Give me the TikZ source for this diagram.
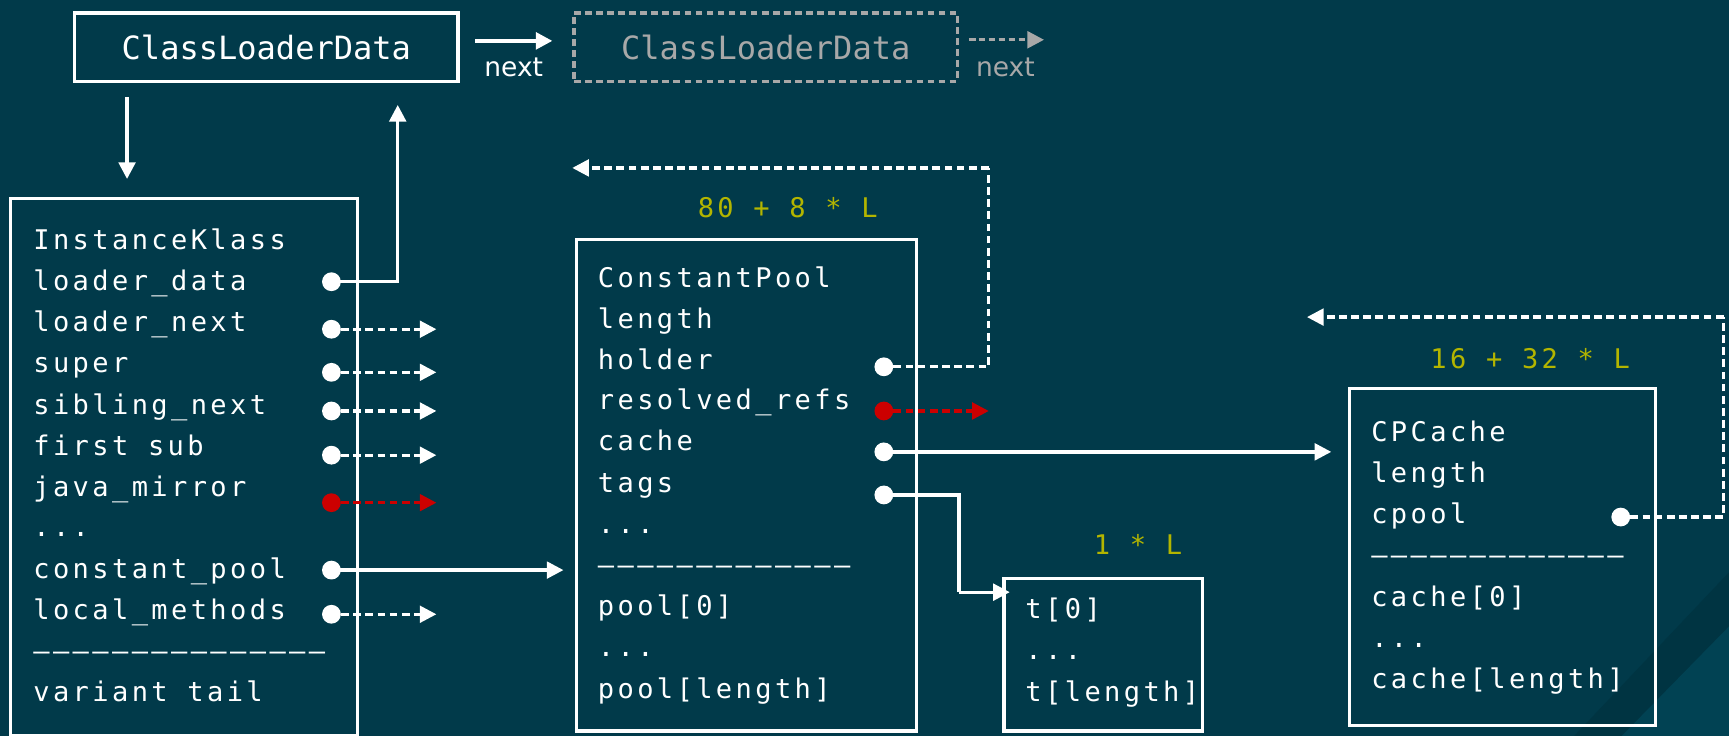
\documentclass[tikz,border=0pt]{standalone}
\usepackage{fontspec}
\usetikzlibrary{arrows.meta}
\newfontfamily\monof[LetterSpace=12.5]{DejaVu Sans Mono}
\newfontfamily\headf{DejaVu Sans Mono}
\newfontfamily\sansf{DejaVu Sans}
\definecolor{bg}{HTML}{013A4A}
\definecolor{bgdark}{HTML}{003442}
\definecolor{bglight}{HTML}{014253}
\definecolor{olive}{HTML}{B3B500}
\definecolor{redc}{HTML}{CC0000}
\definecolor{greyc}{HTML}{A8A8A8}
\tikzset{
  box/.style={draw=white, line width=3.2pt, inner sep=0pt, anchor=north west},
  txt/.style={text=white, font=\monof\fontsize{24.5}{30}\selectfont, inner sep=0pt, anchor=base west},
  sizelbl/.style={text=olive, font=\monof\fontsize{24.5}{30}\selectfont, inner sep=0pt},
  headtxt/.style={font=\headf\fontsize{29}{34}\selectfont, inner sep=0pt},
  nextlbl/.style={font=\sansf\fontsize{24}{28}\selectfont, inner sep=0pt},
  dotw/.style={circle, fill=white, inner sep=0pt, minimum size=17pt},
  dotr/.style={circle, fill=redc, inner sep=0pt, minimum size=17pt},
  tipw/.style={-{Triangle[length=15pt,width=15pt]}},
  link/.style={draw=white, line width=3pt, tipw},
  plainlink/.style={draw=white, line width=3pt},
  dlink/.style={draw=white, line width=3pt, dash pattern=on 7pt off 4pt, tipw},
  dplain/.style={draw=white, line width=3pt, dash pattern=on 7pt off 4pt},
  rlink/.style={draw=redc, line width=3pt, dash pattern=on 7pt off 4pt, -{Triangle[length=15pt,width=15pt]}},
}
\begin{document}
\begin{tikzpicture}[x=1pt,y=-1pt]
\fill[bg] (0,0) rectangle (1565,666);
\useasboundingbox (0,0) rectangle (1565,666);
\fill[bgdark] (1425,666) -- (1565,518) -- (1565,666) -- cycle;
\fill[bglight] (1468,666) -- (1565,567) -- (1565,666) -- cycle;

% top boxes
\node[box, minimum width=347pt, minimum height=62pt] (cld) at (66,10) {};
\node[headtxt, text=white] (cldt) at (cld.center) {ClassLoaderData};
\node[box, draw=greyc, dash pattern=on 6pt off 4pt, minimum width=347pt, minimum height=62pt] (cld2) at (518,10) {};
\node[headtxt, text=greyc] (cld2t) at (cld2.center) {ClassLoaderData};
\coordinate (n1s) at (430,37);
\coordinate (n1e) at (500,37);
\draw[link, line width=3.5pt] (n1s) -- (n1e);
\node[nextlbl, text=white] (n1l) at (465,61) {next};
\coordinate (n2s) at (877,36);
\coordinate (n2e) at (945,36);
\draw[draw=greyc, line width=3pt, dash pattern=on 6pt off 3pt, -{Triangle[length=15pt,width=15pt]}, color=greyc] (n2s) -- (n2e);
\node[nextlbl, text=greyc] (n2l) at (910,61) {next};

% InstanceKlass
\node[box, minimum width=314pt, minimum height=486pt] (ik) at (8,178) {};
\node[txt] (ik0) at (30,226) {InstanceKlass};
\node[txt] (ik1) at (30,263) {loader\_data};
\node[txt] (ik2) at (30,300) {loader\_next};
\node[txt] (ik3) at (30,337) {super};
\node[txt] (ik4) at (30,375) {sibling\_next};
\node[txt] (ik5) at (30,412) {first sub};
\node[txt] (ik6) at (30,449) {java\_mirror};
\node[txt] (ik7) at (30,486) {...};
\node[txt] (ik8) at (30,524) {constant\_pool};
\node[txt] (ik9) at (30,561) {local\_methods};
\node[txt] (ik10) at (30,598) {–––––––––––––––};
\node[txt] (ik11) at (30,635) {variant tail};

\coordinate (cldin) at (115,88);
\coordinate (ikin) at (115,162);
\draw[link] (cldin) -- (ikin);

\node[dotw] (d1) at (300,255) {};
\node[dotw] (d2) at (300,298) {};
\node[dotw] (d3) at (300,337) {};
\node[dotw] (d4) at (300,372) {};
\node[dotw] (d5) at (300,412) {};
\node[dotr] (d6) at (300,455) {};
\node[dotw] (d8) at (300,516) {};
\node[dotw] (d9) at (300,556) {};
\coordinate (up) at (360,95);
\draw[link] (d1.center) -| (up);
\coordinate (e2) at (395,298);
\coordinate (e3) at (395,337);
\coordinate (e4) at (395,372);
\coordinate (e5) at (395,412);
\coordinate (e6) at (395,455);
\coordinate (e9) at (395,556);
\draw[dlink] (d2.east) -- (e2);
\draw[dlink] (d3.east) -- (e3);
\draw[dlink] (d4.east) -- (e4);
\draw[dlink] (d5.east) -- (e5);
\draw[rlink] (d6.east) -- (e6);
\draw[dlink] (d9.east) -- (e9);

% ConstantPool
\node[box, minimum width=308pt, minimum height=445pt] (cp) at (520,215) {};
\node[sizelbl] (cpsz) at (713,188) {80 + 8 * L};
\node[txt] (cp0) at (541,260) {ConstantPool};
\node[txt] (cp1) at (541,297) {length};
\node[txt] (cp2) at (541,334) {holder};
\node[txt] (cp3) at (541,371) {resolved\_refs};
\node[txt] (cp4) at (541,408) {cache};
\node[txt] (cp5) at (541,446) {tags};
\node[txt] (cp6) at (541,483) {...};
\node[txt] (cp7) at (541,520) {–––––––––––––};
\node[txt] (cp8) at (541,557) {pool[0]};
\node[txt] (cp9) at (541,594) {...};
\node[txt] (cp10) at (541,632) {pool[length]};
\coordinate (cpin) at (510,516);
\draw[link] (d8.center) -- (cpin);

\node[dotw] (h) at (800,332) {};
\node[dotr] (rr) at (800,372) {};
\node[dotw] (ca) at (800,409) {};
\node[dotw] (tg) at (800,448) {};
\coordinate (hc1) at (895,332);
\coordinate (hc2) at (895,152);
\coordinate (hend) at (518,152);
\draw[dplain] (h.east) -- (hc1) -- (hc2);
\draw[dlink] (hc2) -- (hend);
\coordinate (rrend) at (895,372);
\draw[rlink] (rr.east) -- (rrend);

% tags box
\node[box, minimum width=180pt, minimum height=138pt] (tb) at (907,522) {};
\node[sizelbl] (tbsz) at (1030,493) {1 * L};
\node[txt] (tb0) at (928,560) {t[0]};
\node[txt] (tb1) at (928,597) {...};
\node[txt] (tb2) at (928,635) {t[length]};
\coordinate (tgc1) at (868,448);
\coordinate (tgc2) at (868,536);
\coordinate (tgend) at (914,536);
\draw[plainlink] (tg.center) -- (tgc1) -- (tgc2);
\draw[link] (tgc2) -- (tgend);

% CPCache
\node[box, minimum width=277pt, minimum height=305pt] (cc) at (1220,350) {};
\node[sizelbl] (ccsz) at (1385,325) {16 + 32 * L};
\node[txt] (cc0) at (1241,400) {CPCache};
\node[txt] (cc1) at (1241,437) {length};
\node[txt] (cc2) at (1241,474) {cpool};
\node[txt] (cc3) at (1241,511) {–––––––––––––};
\node[txt] (cc4) at (1241,549) {cache[0]};
\node[txt] (cc5) at (1241,586) {...};
\node[txt] (cc6) at (1241,623) {cache[length]};
\coordinate (ccin) at (1205,409);
\draw[link] (ca.center) -- (ccin);
\node[dotw] (cpl) at (1467,468) {};
\coordinate (cpc1) at (1560,468);
\coordinate (cpc2) at (1560,287);
\coordinate (cpend) at (1183,287);
\draw[dplain] (cpl.east) -- (cpc1) -- (cpc2);
\draw[dlink] (cpc2) -- (cpend);
\end{tikzpicture}
\end{document}
